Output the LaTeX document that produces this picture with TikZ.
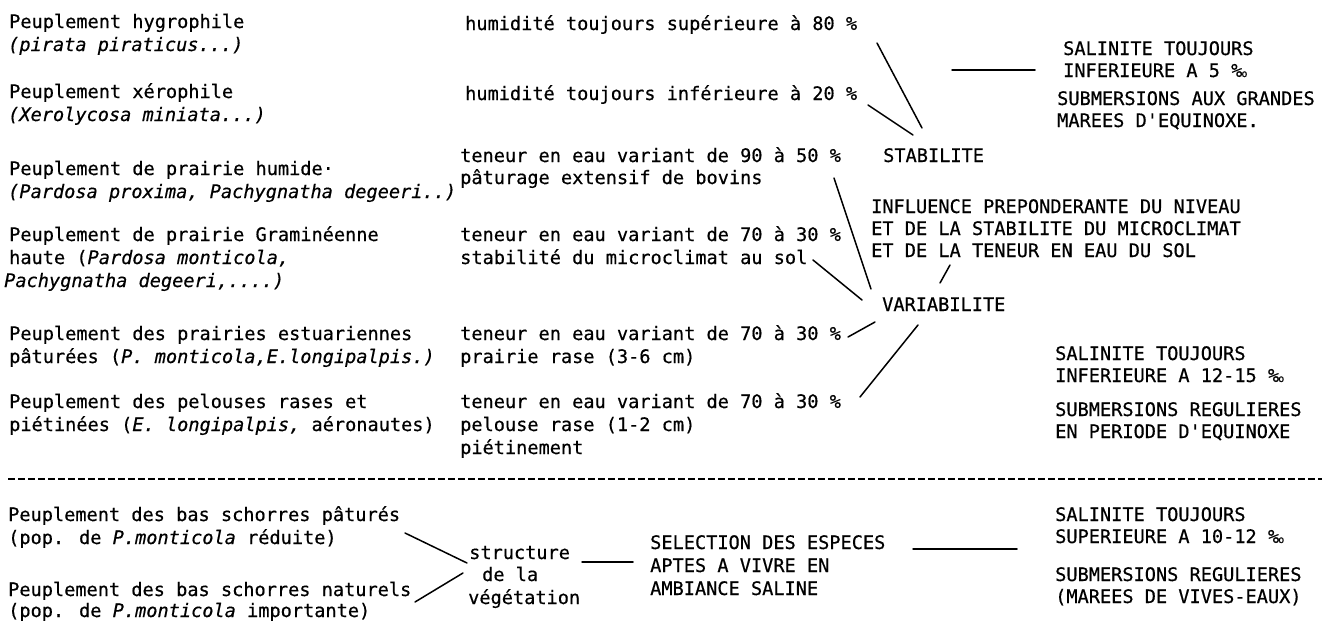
\documentclass[tikz,border=0pt]{standalone}
\usepackage{fontspec}
\newfontfamily\tw[FakeBold=0.5]{DejaVu Sans Mono}
\newcommand\pmil{\kern-0.05em{\fontsize{10}{10}\selectfont o}}
\begin{document}
\begin{tikzpicture}[x=1pt,y=-1pt,
  txt/.style={anchor=base west, inner sep=0pt, font=\tw\fontsize{18.6}{22}\selectfont},
  conn/.style={line width=1.5pt, line cap=round},
  sep/.style={line width=1.3pt, dash pattern=on 7pt off 3pt}]
\useasboundingbox[fill=white] (0,0) rectangle (1326,627);
% left column
\node[txt] (a1) at (9,28) {Peuplement hygrophile};
\node[txt] (a2) at (8,51) {\itshape (pirata piraticus...)};
\node[txt] (a3) at (9,98) {Peuplement xérophile};
\node[txt] (a4) at (8,121) {\itshape (Xerolycosa miniata...)};
\node[txt] (a5) at (9,175) {Peuplement de prairie humide·};
\node[txt] (a6) at (8,198) {\itshape (Pardosa proxima, Pachygnatha degeeri..)};
\node[txt] (a7) at (9,241) {Peuplement de prairie Graminéenne};
\node[txt] (a8) at (9,264) {haute (\itshape Pardosa monticola,};
\node[txt] (a9) at (4,287) {\itshape Pachygnatha degeeri,....)};
\node[txt] (a10) at (9,340) {Peuplement des prairies estuariennes};
\node[txt] (a11) at (9,363) {pâturées (\itshape P. monticola,E.longipalpis.)};
\node[txt] (a12) at (9,408) {Peuplement des pelouses rases et};
\node[txt] (a13) at (9,431) {piétinées (\itshape E. longipalpis,\upshape{} aéronautes)};
\node[txt] (a14) at (8,521) {Peuplement des bas schorres pâturés};
\node[txt] (a15) at (8,544) {(pop. de \itshape P.monticola\upshape{} réduite)};
\node[txt] (a16) at (8,596) {Peuplement des bas schorres naturels};
\node[txt] (a17) at (8,617) {(pop. de \itshape P.monticola\upshape{} importante)};
% middle column
\node[txt] (m1) at (465,30) {humidité toujours supérieure à 80 \%};
\node[txt] (m2) at (465,100) {humidité toujours inférieure à 20 \%};
\node[txt] (m3) at (460,162) {teneur en eau variant de 90 à 50 \%};
\node[txt] (m4) at (460,184) {pâturage extensif de bovins};
\node[txt] (m5) at (460,241) {teneur en eau variant de 70 à 30 \%};
\node[txt] (m6) at (460,264) {stabilité du microclimat au sol};
\node[txt] (m7) at (460,340) {teneur en eau variant de 70 à 30 \%};
\node[txt] (m8) at (460,363) {prairie rase (3-6 cm)};
\node[txt] (m9) at (460,408) {teneur en eau variant de 70 à 30 \%};
\node[txt] (m10) at (460,431) {pelouse rase (1-2 cm)};
\node[txt] (m11) at (460,454) {piétinement};
% centre-right
\node[txt] (stab) at (883,162) {STABILITE};
\node[txt] (inf1) at (871,213) {INFLUENCE PREPONDERANTE DU NIVEAU};
\node[txt] (inf2) at (871,235) {ET DE LA STABILITE DU MICROCLIMAT};
\node[txt] (inf3) at (871,257) {ET DE LA TENEUR EN EAU DU SOL};
\node[txt] (var) at (882,311) {VARIABILITE};
% right column
\node[txt] (r1) at (1063,55) {SALINITE TOUJOURS};
\node[txt] (r2) at (1063,77) {INFERIEURE A 5 \%\pmil};
\node[txt] (r3) at (1057,105) {SUBMERSIONS AUX GRANDES};
\node[txt] (r4) at (1057,127) {MAREES D'EQUINOXE.};
\node[txt] (r5) at (1055,360) {SALINITE TOUJOURS};
\node[txt] (r6) at (1055,382) {INFERIEURE A 12-15 \%\pmil};
\node[txt] (r7) at (1055,416) {SUBMERSIONS REGULIERES};
\node[txt] (r8) at (1055,438) {EN PERIODE D'EQUINOXE};
\node[txt] (r9) at (1055,521) {SALINITE TOUJOURS};
\node[txt] (r10) at (1055,543) {SUPERIEURE A 10-12 \%\pmil};
\node[txt] (r11) at (1055,581) {SUBMERSIONS REGULIERES};
\node[txt] (r12) at (1055,603) {(MAREES DE VIVES-EAUX)};
% bottom middle
\node[txt] (s1) at (469,559) {structure};
\node[txt] (s2) at (482,581) {de la};
\node[txt] (s3) at (468,604) {végétation};
\node[txt] (e1) at (650,549) {SELECTION DES ESPECES};
\node[txt] (e2) at (650,572) {APTES A VIVRE EN};
\node[txt] (e3) at (650,595) {AMBIANCE SALINE};
% connector ends
\coordinate (c1a) at (877,43);  \coordinate (c1b) at (922,128);
\coordinate (c2a) at (868,105); \coordinate (c2b) at (913,135);
\coordinate (c3a) at (952,70);  \coordinate (c3b) at (1035,70);
\coordinate (c4a) at (834,178); \coordinate (c4b) at (871,289);
\coordinate (c5a) at (813,260); \coordinate (c5b) at (862,300);
\coordinate (c6a) at (848,337); \coordinate (c6b) at (875,322);
\coordinate (c7a) at (860,397); \coordinate (c7b) at (918,325);
\coordinate (c8a) at (950,265); \coordinate (c8b) at (940,283);
\coordinate (c9a) at (405,533); \coordinate (c9b) at (467,563);
\coordinate (c10a) at (415,602); \coordinate (c10b) at (463,573);
\coordinate (c11a) at (582,562); \coordinate (c11b) at (633,562);
\coordinate (c12a) at (913,549); \coordinate (c12b) at (1017,549);
\coordinate (d1) at (8,479); \coordinate (d2) at (1322,479);
\draw[conn] (c1a) -- (c1b);
\draw[conn] (c2a) -- (c2b);
\draw[conn] (c3a) -- (c3b);
\draw[conn] (c4a) -- (c4b);
\draw[conn] (c5a) -- (c5b);
\draw[conn] (c6a) -- (c6b);
\draw[conn] (c7a) -- (c7b);
\draw[conn] (c8a) -- (c8b);
\draw[conn] (c9a) -- (c9b);
\draw[conn] (c10a) -- (c10b);
\draw[conn] (c11a) -- (c11b);
\draw[conn] (c12a) -- (c12b);
\draw[sep] (d1) -- (d2);
\end{tikzpicture}
\end{document}
